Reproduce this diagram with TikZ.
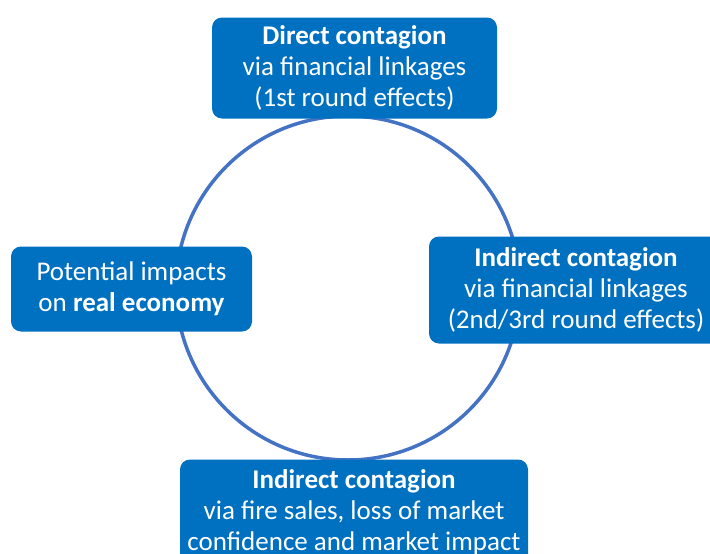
\documentclass[tikz,border=0pt]{standalone}
\usepackage{fontspec}
\setmainfont{Carlito}
\definecolor{boxblue}{RGB}{0,112,192}
\definecolor{ringblue}{RGB}{68,114,196}
\begin{document}
\begin{tikzpicture}[x=1pt,y=-1pt,
  box/.style={draw=none,fill=boxblue,rounded corners=10pt,text=white,align=center,
    font=\fontsize{27}{31}\selectfont,inner sep=0pt},
  ring/.style={draw=ringblue,line width=3.5pt}]
\useasboundingbox (0,0) rectangle (710,554);
\clip (0,0) rectangle (710,554);
\coordinate (c) at (348,288);
\draw[ring] (c) circle[radius=172];
\node[box,minimum width=285pt,minimum height=101pt] (direct) at (354.5,68)
  {\textbf{Direct contagion}\\via financial linkages\\(1st round effects)};
\node[box,minimum width=294pt,minimum height=107pt] (indfin) at (576,290)
  {\textbf{Indirect contagion}\\via financial linkages\\(2nd/3rd round effects)};
\node[box,minimum width=348pt,minimum height=106pt] (indfire) at (354,512.5)
  {\textbf{Indirect contagion}\\via fire sales, loss of market\\confidence and market impact};
\node[box,minimum width=241pt,minimum height=85pt] (real) at (131.5,289)
  {Potential impacts\\on \textbf{real economy}};
\end{tikzpicture}
\end{document}
